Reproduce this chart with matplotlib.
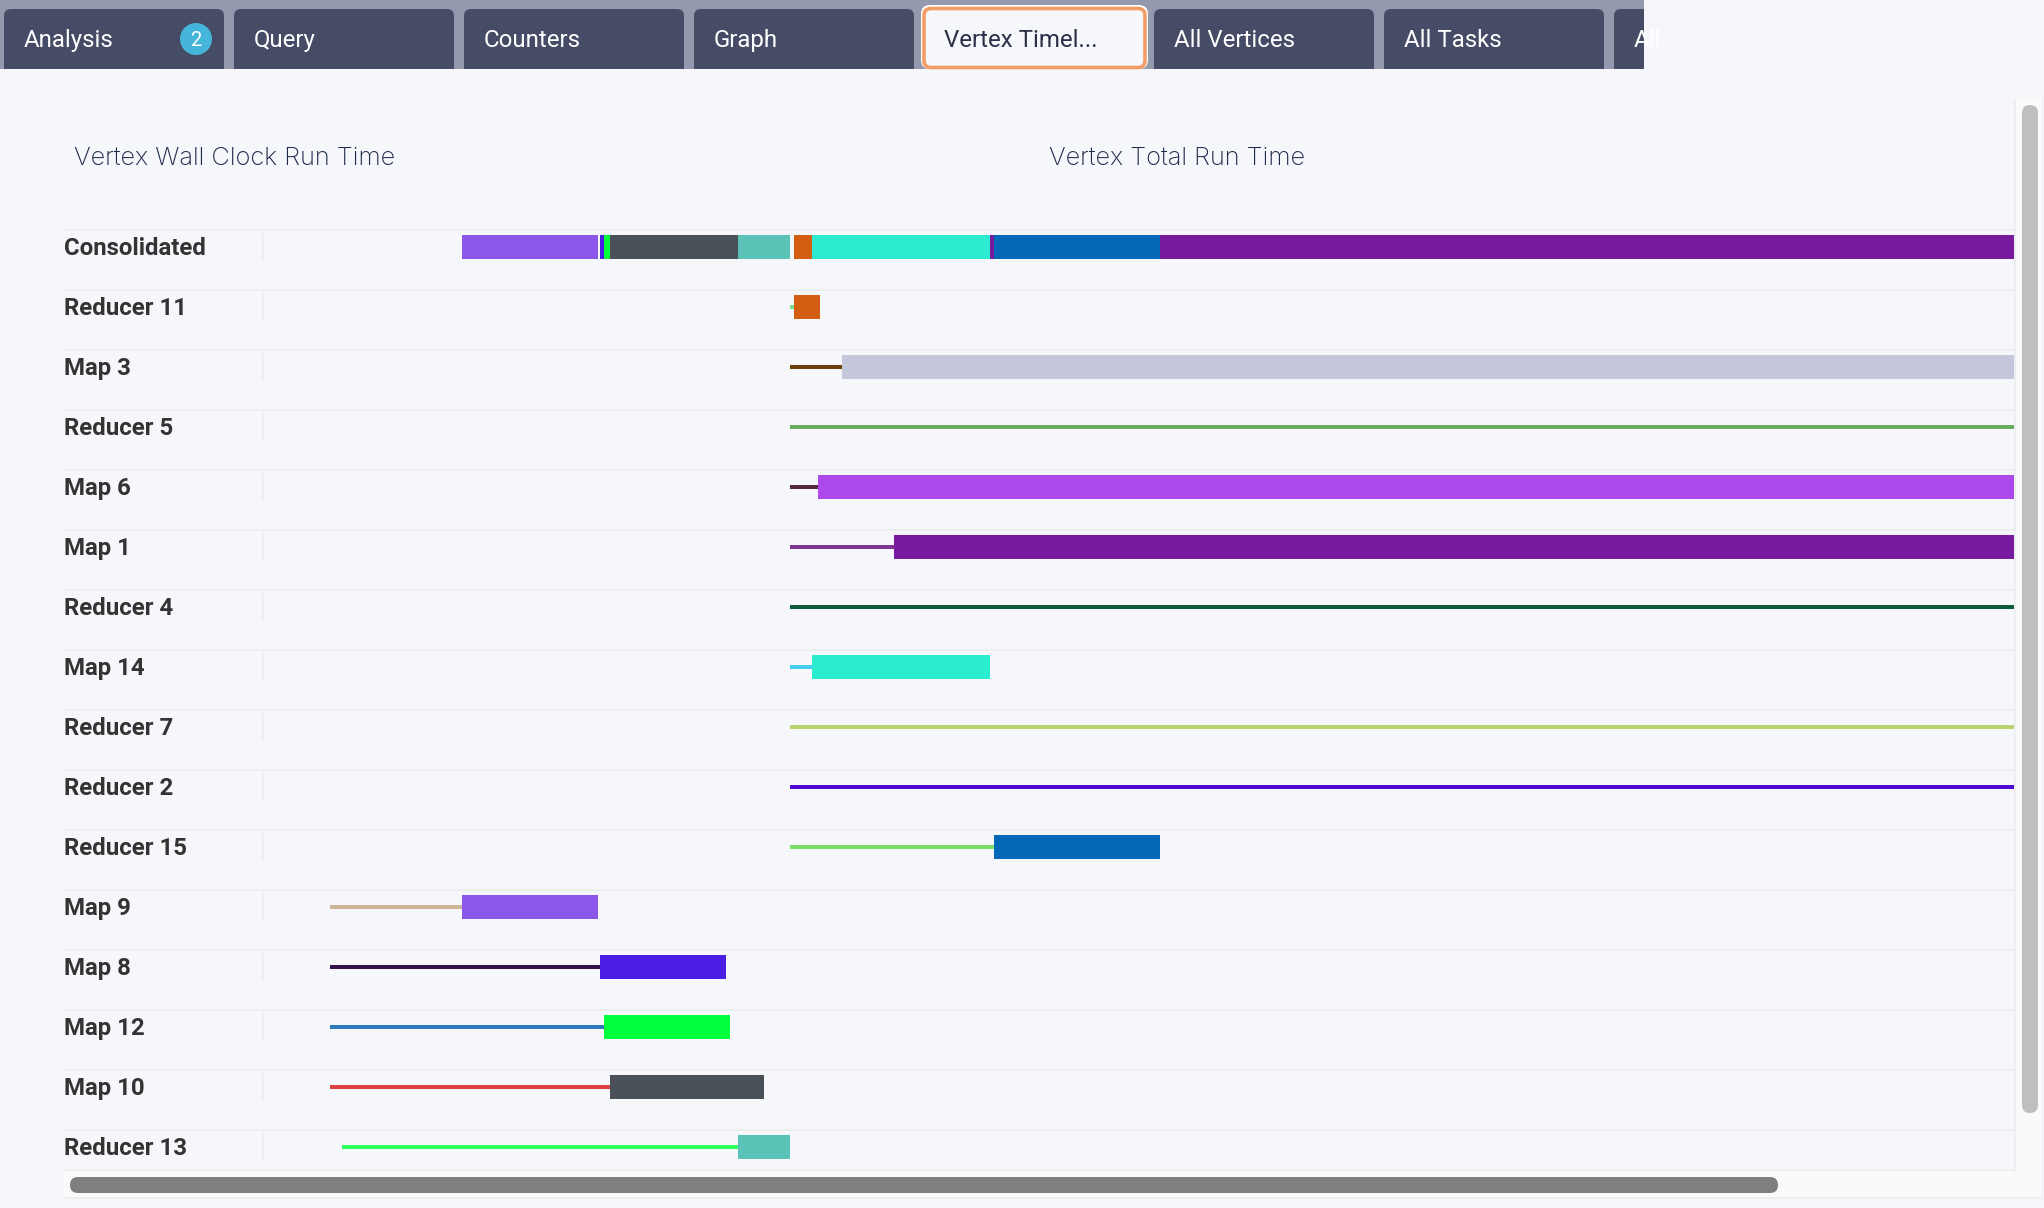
import matplotlib
matplotlib.use("Agg")
import matplotlib.pyplot as plt
from matplotlib.patches import FancyBboxPatch, Rectangle, Circle

# rows top to bottom, consolidated row is built from the vertices below
vertices = ["Reducer 11", "Map 3", "Reducer 5", "Map 6", "Map 1", "Reducer 4", "Map 14", "Reducer 7",
            "Reducer 2", "Reducer 15", "Map 9", "Map 8", "Map 12", "Map 10", "Reducer 13"]
wait_start = [527, 527, 527, 527, 527, 527, 527, 527, 527, 527, 67, 67, 67, 67, 79]
run_start = [531, 579, 1751, 555, 631, 1751, 549, 1751, 1751, 731, 199, 337, 341, 347, 475]
run_end = [557, 1751, 1751, 1751, 1751, 1751, 727, 1751, 1751, 897, 335, 463, 467, 501, 527]
line_colors = ["#6fe391", "#6a3f0d", "#67ad5b", "#552a3f", "#803593", "#0d5a3b", "#46cdef", "#bad36d",
               "#4e09d0", "#7cdf64", "#cdb599", "#33134a", "#2c7bbf", "#dc4040", "#2dff5c"]
bar_colors = ["#d35d10", "#c4c7dc", "#67ad5b", "#ad49ec", "#761b9e", "#0d5a3b", "#2becce", "#bad36d",
              "#4e09d0", "#0368b8", "#8b57ea", "#4a1fe3", "#00ff3c", "#495057", "#5ac2b6"]
# paint order inside the consolidated bar
consolidated_order = ["Map 9", "Map 8", "Map 12", "Map 10", "Reducer 13", "Reducer 11", "Map 3", "Map 6",
                      "Map 1", "Map 14", "Reducer 15"]

tab_names = ["Analysis", "Query", "Counters", "Graph", "Vertex Timel...", "All Vertices", "All Tasks", "All"]
active_tab = "Vertex Timel..."

BG = "#f5f7fb"
GRID = "#eceef0"
W, H = 2044, 1208

fig = plt.figure(figsize=(W / 100, H / 100), dpi=100, facecolor=BG)

# page chrome in pixel coordinates
page = fig.add_axes([0, 0, 1, 1], zorder=1)
page.set_xlim(0, W)
page.set_ylim(H, 0)
page.axis("off")

page.add_patch(Rectangle((0, 0), 1644, 69, color="#9499ad", lw=0, zorder=1))
clip = Rectangle((0, 0), 1644, 69, transform=page.transData)
for i, name in enumerate(tab_names):
    x0 = 4 + 230 * i
    if name == active_tab:
        continue
    tab = FancyBboxPatch((x0, 9), 220, 90, boxstyle="round,pad=0,rounding_size=7", fc="#464b66", ec="none", zorder=2)
    page.add_patch(tab)
    tab.set_clip_path(clip)
    label = page.text(x0 + 20, 38, name, color="white", fontsize=17.3, family="Roboto", va="center_baseline", zorder=3)
    label.set_clip_path(clip)

# active tab
x0 = 4 + 230 * tab_names.index(active_tab)
page.add_patch(FancyBboxPatch((x0 - 3, 5), 227, 64, boxstyle="round,pad=0,rounding_size=9", fc="white", ec="none", zorder=2))
page.add_patch(FancyBboxPatch((x0, 8.5), 221, 59, boxstyle="round,pad=0,rounding_size=7", fc=BG, ec="#f29c66", lw=2.6, zorder=3))
page.text(x0 + 20, 38, active_tab, color="#2b3047", fontsize=17.3, family="Roboto", va="center_baseline", zorder=4)

# badge
page.add_patch(Circle((196, 39), 16, fc="#45b5dc", ec="none", zorder=4))
page.text(196, 38.5, "2", color="white", fontsize=14.5, family="Roboto", ha="center", va="center_baseline", zorder=5)

page.text(74.5, 156, "Vertex Wall Clock Run Time", color="#1f2a4d", fontsize=18.3, family="Inter",
          fontweight="light", va="center_baseline")
page.text(1049, 156, "Vertex Total Run Time", color="#1f2a4d", fontsize=18.3, family="Inter",
          fontweight="light", va="center_baseline")

# scroll tracks and thumbs
page.add_patch(Rectangle((2016, 99), 26, 1099, fc="#fafafa", ec="none", zorder=1))
page.add_patch(Rectangle((64, 1171), 1978, 27, fc="#fafafa", ec="none", zorder=1))
page.add_patch(Rectangle((2014, 99), 2, 1073, fc=GRID, ec="none", zorder=2))
page.add_patch(Rectangle((2042, 99), 1, 1100, fc=GRID, ec="none", zorder=2))
page.add_patch(Rectangle((64, 1197), 1978, 2, fc=GRID, ec="none", zorder=2))
page.add_patch(FancyBboxPatch((2022, 105), 16, 1008, boxstyle="round,pad=0,rounding_size=8", fc="#bfbfbf", ec="none", zorder=3))
page.add_patch(FancyBboxPatch((70, 1177), 1708, 16, boxstyle="round,pad=0,rounding_size=8", fc="#7f7f7f", ec="none", zorder=3))

# timeline, x is time from the start of the run area, y is row index
ax = fig.add_axes([64 / W, 1 - 1177 / H, 1950 / W, 960 / H], zorder=2)
ax.set_xlim(-199, 1751)
ax.set_ylim(15.5, -0.5)
ax.axis("off")

rows = ["Consolidated"] + vertices
grid_offset = 17 / 60
ax.hlines([i - grid_offset for i in range(len(rows))] + [len(rows) - 1 + 23 / 60], -199, 1751, color=GRID, lw=1.44, zorder=1)
for i, name in enumerate(rows):
    ax.vlines(0, i - 14 / 60, i + 14 / 60, color=GRID, lw=1.44, zorder=1)
    ax.text(-199, i - 1 / 60, name, color="#333333", fontsize=17.3, family="Roboto", fontweight="bold", va="center_baseline")

bar_h = 0.4
for z, name in enumerate(consolidated_order):
    k = vertices.index(name)
    ax.barh(0, run_end[k] - run_start[k], left=run_start[k], height=bar_h, color=bar_colors[k], lw=0, zorder=3 + z * 0.01)

for k in range(len(vertices)):
    row = k + 1
    ax.hlines(row, wait_start[k], run_start[k], color=line_colors[k], lw=2.88, capstyle="butt", zorder=3)
    ax.barh(row, run_end[k] - run_start[k], left=run_start[k], height=bar_h, color=bar_colors[k], lw=0, zorder=4)

fig.savefig("out.png", dpi=100, facecolor=BG)
